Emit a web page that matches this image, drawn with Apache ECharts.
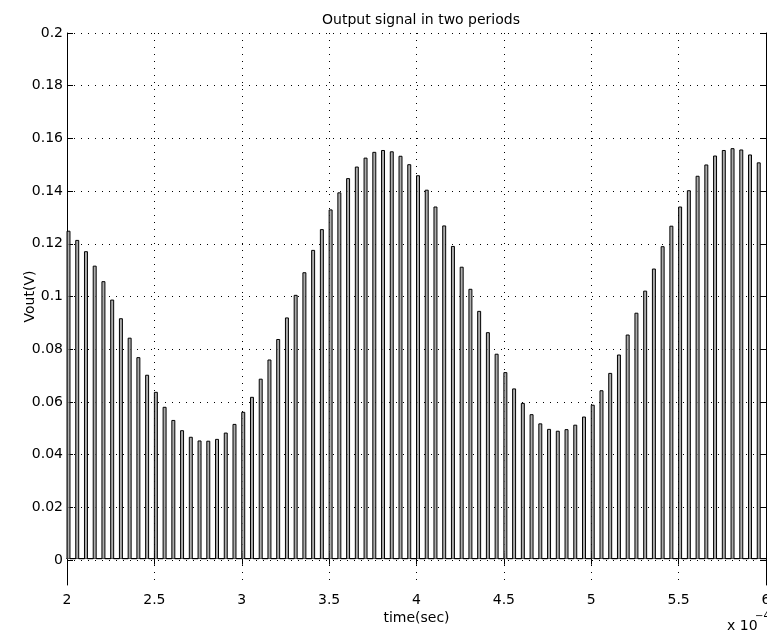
<!DOCTYPE html>
<html>
<head>
<meta charset="utf-8">
<title>Output signal in two periods</title>
<script src="https://cdn.jsdelivr.net/npm/echarts@6.0.0/dist/echarts.min.js"></script>
<style>
  html, body { margin: 0; padding: 0; background: #fff; }
  #chart { width: 767px; height: 634px; }
</style>
</head>
<body>
<div id="chart"></div>
<script>
// pulse start times, in units of 1e-4 s
const pulseStart = [
  2.00, 2.05, 2.10, 2.15, 2.20, 2.25, 2.30, 2.35, 2.40, 2.45,
  2.50, 2.55, 2.60, 2.65, 2.70, 2.75, 2.80, 2.85, 2.90, 2.95,
  3.00, 3.05, 3.10, 3.15, 3.20, 3.25, 3.30, 3.35, 3.40, 3.45,
  3.50, 3.55, 3.60, 3.65, 3.70, 3.75, 3.80, 3.85, 3.90, 3.95,
  4.00, 4.05, 4.10, 4.15, 4.20, 4.25, 4.30, 4.35, 4.40, 4.45,
  4.50, 4.55, 4.60, 4.65, 4.70, 4.75, 4.80, 4.85, 4.90, 4.95,
  5.00, 5.05, 5.10, 5.15, 5.20, 5.25, 5.30, 5.35, 5.40, 5.45,
  5.50, 5.55, 5.60, 5.65, 5.70, 5.75, 5.80, 5.85, 5.90, 5.95
]

// pulse heights, Vout (V)
const pulseHeight = [
  0.1246, 0.1211, 0.1168, 0.1113, 0.1054, 0.0984, 0.0913, 0.0839, 0.0765, 0.0698,
  0.0633, 0.0576, 0.0526, 0.0487, 0.0462, 0.0448, 0.0447, 0.0454, 0.0478, 0.0511,
  0.0557, 0.0614, 0.0683, 0.0756, 0.0834, 0.0916, 0.1002, 0.1088, 0.1173, 0.1252,
  0.1327, 0.1392, 0.1446, 0.1490, 0.1524, 0.1546, 0.1553, 0.1548, 0.1531, 0.1499,
  0.1457, 0.1402, 0.1338, 0.1266, 0.1188, 0.1109, 0.1025, 0.0941, 0.0860, 0.0778,
  0.0708, 0.0646, 0.0591, 0.0548, 0.0513, 0.0492, 0.0485, 0.0491, 0.0508, 0.0539,
  0.0584, 0.0639, 0.0705, 0.0775, 0.0851, 0.0934, 0.1018, 0.1102, 0.1187, 0.1265,
  0.1338, 0.1400, 0.1455, 0.1498, 0.1532, 0.1553, 0.1560, 0.1555, 0.1536, 0.1506
]

const pulseWidth = 0.017
const timeEnd = 6

const FONT = 'DejaVu Sans'

// rectangular pulses from baseline 0
const signal = []
pulseStart.forEach((t, i) => {
  signal.push([t, 0], [t, pulseHeight[i]], [t + pulseWidth, pulseHeight[i]], [t + pulseWidth, 0])
})
signal.push([timeEnd, 0])

const dotted = { color: '#000', width: 1, type: [1, 6] }
const blackLine = { show: true, lineStyle: { color: '#000', width: 1 } }
const inTick = { show: true, inside: true, length: 6, lineStyle: { color: '#000' } }

const chart = echarts.init(document.getElementById('chart'))

const option = {
  animation: false,
  backgroundColor: '#fff',
  title: {
    text: 'Output signal in two periods',
    left: 317,
    top: 8,
    textStyle: { fontFamily: FONT, fontSize: 14, fontWeight: 'normal', color: '#000' }
  },
  // frame grid goes down to -0.01, label grid stops at 0
  grid: [
    { left: 67, right: 1, top: 33, bottom: 49, outerBoundsMode: 'none' },
    { left: 67, right: 1, top: 33, bottom: 74, outerBoundsMode: 'none' }
  ],
  xAxis: [
    {
      gridIndex: 0,
      type: 'value',
      position: 'bottom',
      min: 2,
      max: 6,
      interval: 0.5,
      axisLine: blackLine,
      axisTick: inTick,
      axisLabel: {
        color: '#000', fontFamily: FONT, fontSize: 14, margin: 8,
        showMinLabel: true, showMaxLabel: true, hideOverlap: false
      },
      splitLine: { show: true, lineStyle: dotted },
      name: 'time(sec)',
      nameLocation: 'middle',
      nameGap: 26,
      nameMoveOverlap: false,
      nameTextStyle: { color: '#000', fontFamily: FONT, fontSize: 14 }
    },
    {
      gridIndex: 0,
      type: 'value',
      position: 'top',
      min: 2,
      max: 6,
      interval: 0.5,
      axisLine: blackLine,
      axisTick: inTick,
      axisLabel: { show: false },
      splitLine: { show: false }
    },
    { gridIndex: 1, type: 'value', min: 2, max: 6, show: false }
  ],
  yAxis: [
    {
      gridIndex: 0,
      type: 'value',
      position: 'left',
      min: -0.01,
      max: 0.2,
      axisLine: blackLine,
      axisTick: { show: false },
      axisLabel: { show: false },
      splitLine: { show: false }
    },
    {
      gridIndex: 0,
      type: 'value',
      position: 'right',
      min: -0.01,
      max: 0.2,
      axisLine: blackLine,
      axisTick: { show: false },
      axisLabel: { show: false },
      splitLine: { show: false }
    },
    {
      gridIndex: 1,
      type: 'value',
      position: 'left',
      min: 0,
      max: 0.2,
      interval: 0.02,
      axisLine: { show: false },
      axisTick: inTick,
      axisLabel: { color: '#000', fontFamily: FONT, fontSize: 14, margin: 4 },
      splitLine: { show: true, lineStyle: dotted },
      name: 'Vout(V)',
      nameLocation: 'middle',
      nameGap: 30,
      nameMoveOverlap: false,
      nameTextStyle: { color: '#000', fontFamily: FONT, fontSize: 14 }
    },
    {
      gridIndex: 1,
      type: 'value',
      position: 'right',
      min: 0,
      max: 0.2,
      interval: 0.02,
      axisLine: { show: false },
      axisTick: inTick,
      axisLabel: { show: false },
      splitLine: { show: false }
    }
  ],
  graphic: [
    {
      type: 'text',
      left: 727,
      top: 619,
      style: { text: 'x 10', font: '14px "DejaVu Sans"', fill: '#000' }
    },
    {
      type: 'text',
      left: 755,
      top: 611,
      style: { text: '\u22124', font: '10px "DejaVu Sans"', fill: '#000' }
    }
  ],
  series: [
    {
      name: 'Vout',
      type: 'line',
      xAxisIndex: 0,
      yAxisIndex: 0,
      data: signal,
      showSymbol: false,
      symbol: 'none',
      lineStyle: { color: '#000', width: 1 },
      areaStyle: { color: '#999', opacity: 0.8 },
      z: 3
    }
  ]
}

chart.setOption(option)
</script>
</body>
</html>
